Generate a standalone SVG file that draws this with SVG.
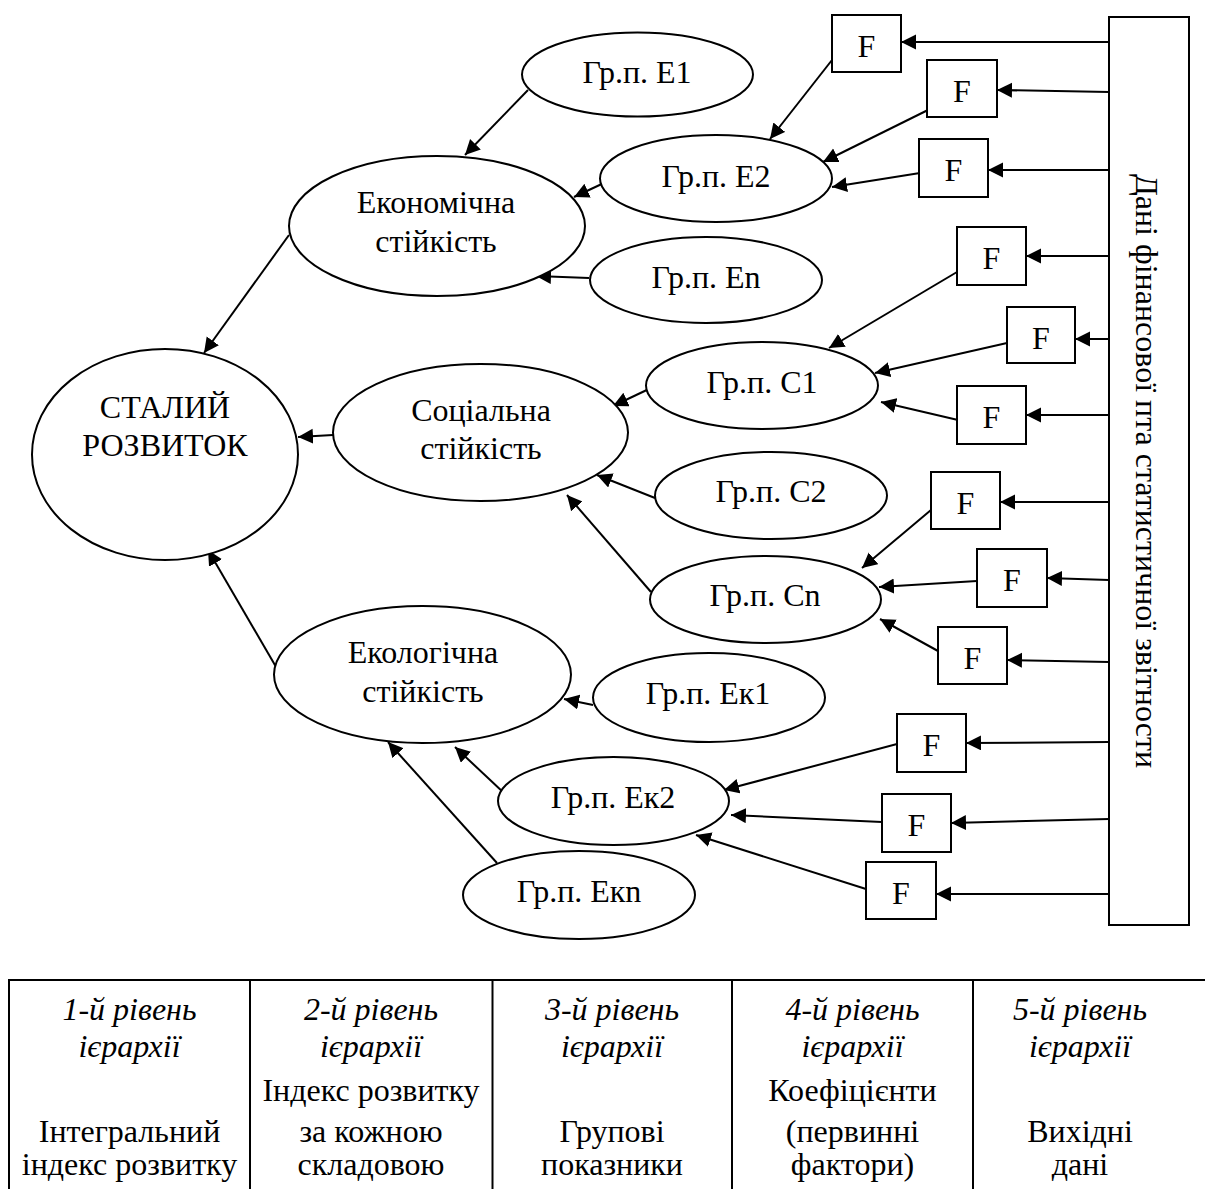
<svg xmlns="http://www.w3.org/2000/svg" width="1205" height="1189" viewBox="0 0 1205 1189">
<style>
text{font-family:"Liberation Serif","Times New Roman",serif;font-size:32px;fill:#000;text-anchor:middle}
.it{font-style:italic}
.nd{fill:#fff;stroke:#000;stroke-width:2}
.cn line{stroke:#000;stroke-width:2;marker-end:url(#ah)}
.tb line{stroke:#000;stroke-width:2}
</style>
<defs>
<marker id="ah" markerUnits="userSpaceOnUse" markerWidth="16" markerHeight="16" refX="15" refY="7.5" orient="auto">
<path d="M0,0 L15,7.5 L0,15 z" fill="#000"/>
</marker>
</defs>
<rect width="1205" height="1189" fill="#fff"/>

<g id="connectors" class="cn">
<line x1="528" y1="90" x2="465" y2="155"/>
<line x1="606" y1="182" x2="574" y2="197"/>
<line x1="589" y1="278" x2="536" y2="276"/>
<line x1="289" y1="235" x2="204" y2="353"/>
<line x1="333" y1="435" x2="298" y2="437"/>
<line x1="279" y1="672" x2="208" y2="550"/>
<line x1="832" y1="60" x2="770" y2="139"/>
<line x1="932" y1="108" x2="823" y2="162"/>
<line x1="920" y1="173" x2="832" y2="187"/>
<line x1="1109" y1="42" x2="901" y2="42"/>
<line x1="1109" y1="92" x2="997" y2="90"/>
<line x1="1109" y1="170" x2="988" y2="170"/>
<line x1="1109" y1="256" x2="1026" y2="256"/>
<line x1="1109" y1="339" x2="1075" y2="339"/>
<line x1="1109" y1="415" x2="1026" y2="415"/>
<line x1="1109" y1="502" x2="1000" y2="502"/>
<line x1="1109" y1="580" x2="1047" y2="578"/>
<line x1="1109" y1="662" x2="1007" y2="660"/>
<line x1="1109" y1="742" x2="966" y2="743"/>
<line x1="1109" y1="819" x2="951" y2="823"/>
<line x1="1109" y1="894" x2="936" y2="894"/>
<line x1="957" y1="272" x2="829" y2="348"/>
<line x1="1007" y1="343" x2="875" y2="373"/>
<line x1="958" y1="420" x2="881" y2="402"/>
<line x1="651" y1="388" x2="613" y2="406"/>
<line x1="655" y1="498" x2="597" y2="475"/>
<line x1="651" y1="592" x2="567" y2="495"/>
<line x1="931" y1="510" x2="862" y2="568"/>
<line x1="977" y1="581" x2="879" y2="587"/>
<line x1="938" y1="651" x2="880" y2="619"/>
<line x1="593" y1="705" x2="564" y2="699"/>
<line x1="504" y1="793" x2="455" y2="747"/>
<line x1="497" y1="863" x2="388" y2="742"/>
<line x1="897" y1="744" x2="724" y2="790"/>
<line x1="882" y1="822" x2="731" y2="815"/>
<line x1="866" y1="889" x2="696" y2="835"/>
</g>

<g id="n-stalyi"><ellipse class="nd" cx="165" cy="454.5" rx="133" ry="105.5"/><text x="165" y="418">СТАЛИЙ</text><text x="165" y="456">РОЗВИТОК</text></g>
<g id="n-econ"><ellipse class="nd" cx="437" cy="226" rx="148" ry="70"/><text x="436" y="213">Економічна</text><text x="436" y="252">стійкість</text></g>
<g id="n-soc"><ellipse class="nd" cx="480.5" cy="432.5" rx="147.5" ry="68.5"/><text x="481" y="421">Соціальна</text><text x="481" y="459">стійкість</text></g>
<g id="n-eco"><ellipse class="nd" cx="422.5" cy="674.5" rx="148.5" ry="68.5"/><text x="423" y="663">Екологічна</text><text x="423" y="702">стійкість</text></g>

<g id="n-e1"><ellipse class="nd" cx="637.5" cy="74.5" rx="115.5" ry="42"/><text x="637" y="83">Гр.п. Е1</text></g>
<g id="n-e2"><ellipse class="nd" cx="716" cy="178.5" rx="116" ry="43.5"/><text x="716" y="187">Гр.п. Е2</text></g>
<g id="n-en"><ellipse class="nd" cx="706" cy="280" rx="116" ry="43"/><text x="706" y="288">Гр.п. Еn</text></g>
<g id="n-c1"><ellipse class="nd" cx="762" cy="385.5" rx="116" ry="43.5"/><text x="762" y="393">Гр.п. С1</text></g>
<g id="n-c2"><ellipse class="nd" cx="771" cy="495.5" rx="116" ry="43.5"/><text x="771" y="502">Гр.п. С2</text></g>
<g id="n-cn"><ellipse class="nd" cx="765.5" cy="599.5" rx="115.5" ry="43.5"/><text x="765" y="606">Гр.п. Сn</text></g>
<g id="n-ek1"><ellipse class="nd" cx="709" cy="697.5" rx="116" ry="44.5"/><text x="708" y="704">Гр.п. Ек1</text></g>
<g id="n-ek2"><ellipse class="nd" cx="613.5" cy="801" rx="115.5" ry="44"/><text x="613" y="808">Гр.п. Ек2</text></g>
<g id="n-ekn"><ellipse class="nd" cx="579" cy="895" rx="116" ry="44"/><text x="579" y="902">Гр.п. Екn</text></g>

<g id="n-f1"><rect class="nd" x="832" y="15" width="69" height="57"/><text x="866.5" y="57">F</text></g>
<g id="n-f2"><rect class="nd" x="927" y="60" width="70" height="57"/><text x="962" y="102">F</text></g>
<g id="n-f3"><rect class="nd" x="919" y="139" width="69" height="58"/><text x="953.5" y="181">F</text></g>
<g id="n-f4"><rect class="nd" x="957" y="227" width="69" height="58"/><text x="991.5" y="269">F</text></g>
<g id="n-f5"><rect class="nd" x="1007" y="307" width="68" height="56"/><text x="1041" y="349">F</text></g>
<g id="n-f6"><rect class="nd" x="957" y="386" width="69" height="58"/><text x="991.5" y="428">F</text></g>
<g id="n-f7"><rect class="nd" x="931" y="472" width="69" height="57"/><text x="965.5" y="514">F</text></g>
<g id="n-f8"><rect class="nd" x="977" y="549" width="70" height="58"/><text x="1012" y="591">F</text></g>
<g id="n-f9"><rect class="nd" x="938" y="627" width="69" height="57"/><text x="972.5" y="669">F</text></g>
<g id="n-f10"><rect class="nd" x="897" y="714" width="69" height="58"/><text x="931.5" y="756">F</text></g>
<g id="n-f11"><rect class="nd" x="882" y="794" width="69" height="58"/><text x="916.5" y="836">F</text></g>
<g id="n-f12"><rect class="nd" x="866" y="862" width="70" height="57"/><text x="901" y="904">F</text></g>

<g id="n-data"><rect class="nd" x="1109" y="17" width="80" height="908"/><text transform="translate(1136,471) rotate(90)">Дані фінансової пта статистичної звітности</text></g>

<g id="table" class="tb">
<line x1="8" y1="980" x2="1205" y2="980"/>
<line x1="9" y1="979" x2="9" y2="1189"/>
<line x1="250" y1="979" x2="250" y2="1189"/>
<line x1="492.5" y1="979" x2="492.5" y2="1189"/>
<line x1="732" y1="979" x2="732" y2="1189"/>
<line x1="973" y1="979" x2="973" y2="1189"/>
<text class="it" x="129.5" y="1020">1-й рівень</text>
<text class="it" x="129.5" y="1057">ієрархії</text>
<text x="129.5" y="1142">Інтегральний</text>
<text x="129.5" y="1175">індекс розвитку</text>
<text class="it" x="371" y="1020">2-й рівень</text>
<text class="it" x="371" y="1057">ієрархії</text>
<text x="371" y="1101">Індекс розвитку</text>
<text x="371" y="1142">за кожною</text>
<text x="371" y="1175">складовою</text>
<text class="it" x="612" y="1020">3-й рівень</text>
<text class="it" x="612" y="1057">ієрархії</text>
<text x="612" y="1142">Групові</text>
<text x="612" y="1175">показники</text>
<text class="it" x="852.5" y="1020">4-й рівень</text>
<text class="it" x="852.5" y="1057">ієрархії</text>
<text x="852.5" y="1101">Коефіцієнти</text>
<text x="852.5" y="1142">(первинні</text>
<text x="852.5" y="1175">фактори)</text>
<text class="it" x="1080" y="1020">5-й рівень</text>
<text class="it" x="1080" y="1057">ієрархії</text>
<text x="1080" y="1142">Вихідні</text>
<text x="1080" y="1175">дані</text>
</g>
</svg>
